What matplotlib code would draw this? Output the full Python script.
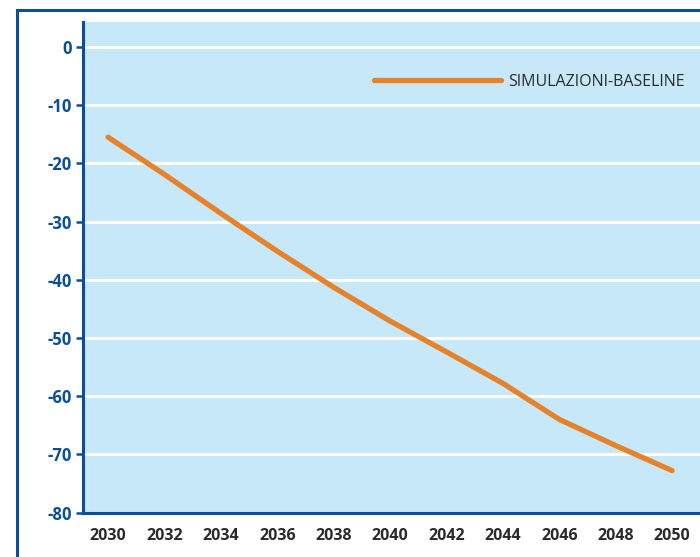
import matplotlib
matplotlib.use('Agg')
import matplotlib.pyplot as plt
from matplotlib.lines import Line2D

# data
years = [2030, 2032, 2034, 2036, 2038, 2040, 2042, 2044, 2046, 2048, 2050]
baseline = [-15.5, -21.9, -28.6, -35.1, -41.3, -47.1, -52.4, -57.8, -64.0, -68.5, -72.8]
yticks = [0, -10, -20, -30, -40, -50, -60, -70, -80]
series_name = 'SIMULAZIONI-BASELINE'

blue = '#0b4f9c'
bg = '#c6e8f8'
orange = '#e5822a'

plt.rcParams['font.family'] = ['Open Sans', 'DejaVu Sans']

fig = plt.figure(figsize=(7, 5.57), dpi=100)
ax = fig.add_axes([83/700., 1-512.5/557., 1-83/700., (512.5-22)/557.])
ax.set_facecolor(bg)

# outer frame (cropped box)
fig.add_artist(Line2D([17/700., 17/700.], [0, 1-10/557.], color=blue, lw=2.2, transform=fig.transFigure))
fig.add_artist(Line2D([17/700., 1.01], [1-10/557., 1-10/557.], color=blue, lw=2.2, transform=fig.transFigure))

for v in yticks[:-1]:
	ax.axhline(v, color='white', lw=2.2, zorder=1)

ax.plot(years, baseline, color=orange, lw=3.8, solid_capstyle='round', solid_joinstyle='round', zorder=3, label=series_name)

ax.set_xlim(2029.11, 2050.99)
ax.set_ylim(-80, 4.3)
ax.set_xticks(years)
ax.set_xticklabels([str(y) for y in years], fontweight='bold', fontsize=11.5, color='#2b2b2b')
ax.set_yticks(yticks)
ax.set_yticklabels([str(v) for v in yticks], fontweight='bold', fontsize=12, color=blue)

for s in ['top', 'right']:
	ax.spines[s].set_visible(False)
for s in ['left', 'bottom']:
	ax.spines[s].set_color(blue)
	ax.spines[s].set_linewidth(2.2)

ax.tick_params(axis='y', color=blue, length=5, width=1.8, pad=3)
ax.tick_params(axis='x', length=0, pad=11)

leg = ax.legend(loc='upper right', bbox_to_anchor=(0.994, 0.917), frameon=False, handlelength=8.0,
	handletextpad=0.45, fontsize=11.5, borderaxespad=0.3)
for t in leg.get_texts():
	t.set_color('#2b2b2b')

fig.savefig('out.png', dpi=100)
